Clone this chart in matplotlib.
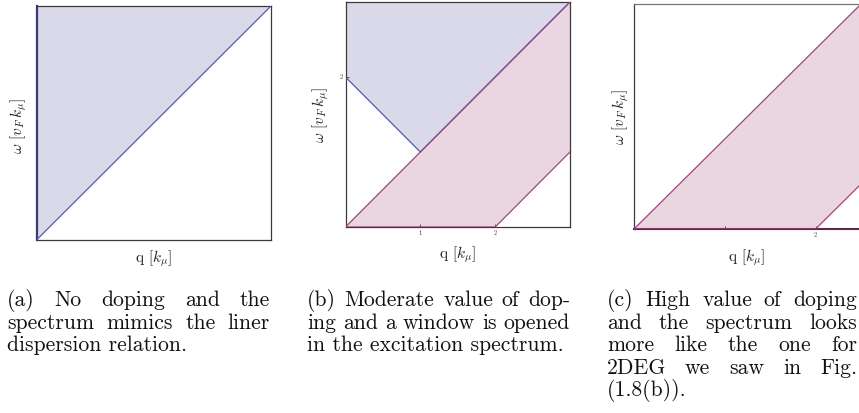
import matplotlib
matplotlib.use("Agg")
import matplotlib.pyplot as plt

plt.rcParams["mathtext.fontset"] = "cm"
plt.rcParams["font.family"] = ["cmr10", "DejaVu Serif"]
plt.rcParams["axes.formatter.use_mathtext"] = True

W, H = 859, 413
DPI = 100

# ---- spectrum boundaries (q in k_mu, omega in v_F k_mu) ----
# (a) undoped: interband continuum above omega = q
a_inter_q = [0.0, 3.0]
a_inter_w = [0.0, 3.0]
a_lim = 3.0

# (b) moderate doping
b_inter_q = [0.0, 1.0, 3.0]
b_inter_w = [2.0, 1.0, 3.0]
b_intra_up_q = [0.0, 3.0]
b_intra_up_w = [0.0, 3.0]
b_intra_lo_q = [0.0, 2.0, 3.0]
b_intra_lo_w = [0.0, 0.0, 1.0]
b_lim = 3.0
b_xticks = [1, 2]
b_xticklabels = ["1", "2"]
b_yticks = [2]
b_yticklabels = ["2"]

# (c) high doping
c_intra_up_q = [0.0, 2.5]
c_intra_up_w = [0.0, 2.5]
c_intra_lo_q = [0.0, 2.0, 2.5]
c_intra_lo_w = [0.0, 0.0, 0.5]
c_lim = 2.5
c_xticks = [1, 2]
c_xticklabels = ["", "2"]

xlabel_text = r"q [$k_\mu$]"
ylabel_text = r"$\omega$ [$v_{F}\,k_{\mu}$]"

captions = [
    ["(a) No doping and the", "spectrum mimics the liner", "dispersion relation."],
    ["(b) Moderate value of dop-", "ing and a window is opened",
     "in the excitation spectrum."],
    ["(c) High value of doping", "and the spectrum looks",
     "more like the one for", "2DEG we saw in Fig.", "(1.8(b))."],
]

BLUE_FILL = "#d9d9ea"
BLUE_LINE = "#5a5aa6"
PINK_FILL = "#e9d6e1"
PINK_LINE = "#a0467a"
SPINE = "#3a3a3a"

fig = plt.figure(figsize=(W / DPI, H / DPI), dpi=DPI)


def px_axes(x0, y0, x1, y1):
    return fig.add_axes([x0 / W, 1 - y1 / H, (x1 - x0) / W, (y1 - y0) / H])


def fx(x):
    return x / W


def fy(y):
    return 1 - y / H


def style(ax, lim):
    ax.set_xlim(0, lim)
    ax.set_ylim(0, lim)
    for s in ax.spines.values():
        s.set_color(SPINE)
        s.set_linewidth(0.9)
    ax.tick_params(direction="in", length=2.5, width=0.6, labelsize=4.5,
                   pad=2, colors=SPINE)
    ax.set_xticks([])
    ax.set_yticks([])


def fill_above(ax, q, w, top, fc, lc):
    poly_x = list(q) + [q[-1], q[0]]
    poly_y = list(w) + [top, top]
    ax.fill(poly_x, poly_y, color=fc, lw=0, zorder=1)
    ax.plot(q, w, color=lc, lw=0.9, zorder=3)


def fill_band(ax, qu, wu, ql, wl, fc, lc):
    poly_x = list(qu) + list(ql[::-1])
    poly_y = list(wu) + list(wl[::-1])
    ax.fill(poly_x, poly_y, color=fc, lw=0, zorder=1)
    ax.plot(qu, wu, color=lc, lw=0.9, zorder=3)
    ax.plot(ql, wl, color=lc, lw=0.9, zorder=3)


# (a)
ax_a = px_axes(36.5, 6, 271, 240)
style(ax_a, a_lim)
fill_above(ax_a, a_inter_q, a_inter_w, a_lim, BLUE_FILL, BLUE_LINE)
ax_a.spines["left"].set_color("#3b3b6e")
ax_a.spines["left"].set_linewidth(1.6)

# (b)
ax_b = px_axes(345.5, 2, 570, 227)
style(ax_b, b_lim)
fill_above(ax_b, b_inter_q, b_inter_w, b_lim, BLUE_FILL, BLUE_LINE)
fill_band(ax_b, b_intra_up_q, b_intra_up_w, b_intra_lo_q, b_intra_lo_w,
          PINK_FILL, PINK_LINE)
ax_b.set_xticks(b_xticks)
ax_b.set_xticklabels(b_xticklabels)
ax_b.set_yticks(b_yticks)
ax_b.set_yticklabels(b_yticklabels)

# (c)
ax_c = px_axes(634, 4, 861, 229)
style(ax_c, c_lim)
fill_band(ax_c, c_intra_up_q, c_intra_up_w, c_intra_lo_q, c_intra_lo_w,
          PINK_FILL, PINK_LINE)
ax_c.set_xticks(c_xticks)
ax_c.set_xticklabels(c_xticklabels)
ax_c.spines["bottom"].set_color("#5a2a48")
ax_c.spines["bottom"].set_linewidth(1.5)
ax_c.spines["top"].set_color("#777777")

# axis labels
label_kw = dict(fontsize=11, color="#222222")
for cx, ly, yx, cy in [(154, 259, 19, 126), (458, 255, 321, 115),
                       (747, 258, 621, 117)]:
    fig.text(fx(cx), fy(ly), xlabel_text, ha="center", va="center", **label_kw)
    fig.text(fx(yx), fy(cy), ylabel_text, ha="center", va="center",
             rotation=90, **label_kw)

# captions, justified
CAP_SIZE = 15.6
cap_left = [7, 307, 607]
cap_width = [263, 263, 250]
baseline0 = 306
line_step = 22.6

fig.canvas.draw()
renderer = fig.canvas.get_renderer()

for left, width, lines in zip(cap_left, cap_width, captions):
    for i, line in enumerate(lines):
        y = fy(baseline0 + i * line_step)
        last = i == len(lines) - 1
        if last:
            fig.text(fx(left), y, line, fontsize=CAP_SIZE, ha="left",
                     va="baseline", color="#111111")
            continue
        words = line.split(" ")
        arts = [fig.text(0, y, w, fontsize=CAP_SIZE, ha="left",
                         va="baseline", color="#111111") for w in words]
        widths = [t.get_window_extent(renderer).width for t in arts]
        gap = (width - sum(widths)) / max(len(words) - 1, 1)
        x = left
        for t, wd in zip(arts, widths):
            t.set_x(fx(x))
            x += wd + gap

fig.savefig("out.png", dpi=DPI)
